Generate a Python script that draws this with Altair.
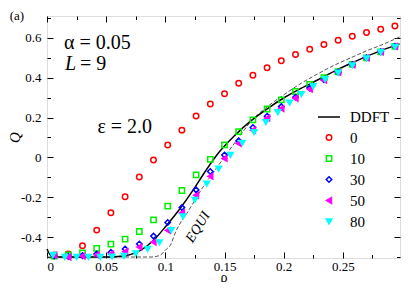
import altair as alt
import pandas as pd

# ---------------- data ----------------
rho_grid = [0.006, 0.018, 0.030, 0.042, 0.054, 0.066, 0.078, 0.090, 0.102,
            0.114, 0.126, 0.138, 0.150, 0.162, 0.174, 0.186, 0.198, 0.210,
            0.222, 0.234, 0.246, 0.258, 0.270, 0.282, 0.294]

q_0 = [-0.490, -0.485, -0.443, -0.365, -0.278, -0.197, -0.098, -0.013, 0.062,
       0.137, 0.208, 0.268, 0.320, 0.372, 0.413, 0.450, 0.485, 0.517,
       0.543, 0.567, 0.588, 0.608, 0.627, 0.643, 0.660]
q_10 = [-0.495, -0.490, -0.480, -0.457, -0.435, -0.410, -0.372, -0.314, -0.245,
        -0.166, -0.088, -0.010, 0.063, 0.130, 0.188, 0.243, 0.289, 0.331,
        0.367, 0.401, 0.430, 0.467, 0.500, 0.530, 0.558]
q_30 = [-0.495, -0.497, -0.493, -0.485, -0.477, -0.460, -0.435, -0.395, -0.327,
        -0.252, -0.163, -0.071, 0.012, 0.083, 0.150, 0.207, 0.255, 0.302,
        0.348, 0.390, 0.428, 0.466, 0.500, 0.530, 0.558]
q_50 = [-0.490, -0.500, -0.495, -0.490, -0.485, -0.473, -0.450, -0.425, -0.366,
        -0.279, -0.190, -0.095, -0.005, 0.070, 0.137, 0.197, 0.245, 0.297,
        0.343, 0.388, 0.427, 0.465, 0.500, 0.530, 0.557]

rho_80 = [0.005, 0.015, 0.025, 0.035, 0.045, 0.055, 0.065, 0.075, 0.085, 0.095,
          0.105, 0.115, 0.125, 0.135, 0.145, 0.155, 0.165, 0.175, 0.185, 0.195,
          0.205, 0.215, 0.225, 0.235, 0.246, 0.258, 0.270, 0.282, 0.294]
q_80 = [-0.490, -0.500, -0.500, -0.500, -0.500, -0.498, -0.495, -0.482, -0.460, -0.427,
        -0.365, -0.297, -0.213, -0.132, -0.057, 0.013, 0.073, 0.127, 0.177, 0.227,
        0.275, 0.318, 0.357, 0.393, 0.425, 0.462, 0.497, 0.528, 0.555]

ddft_rho = [0.0, 0.003, 0.010, 0.030, 0.050, 0.060, 0.0675, 0.0786, 0.0897, 0.1008,
            0.112, 0.123, 0.134, 0.145, 0.159, 0.173, 0.187, 0.201, 0.215, 0.229,
            0.2425, 0.256, 0.270, 0.284, 0.298]
ddft_q = [-0.46, -0.49, -0.50, -0.50, -0.50, -0.497, -0.492, -0.468, -0.418, -0.343,
          -0.260, -0.168, -0.068, 0.023, 0.112, 0.187, 0.248, 0.302, 0.348, 0.390,
          0.432, 0.470, 0.507, 0.540, 0.570]

equi_rho = [0.0, 0.088, 0.095, 0.101, 0.104, 0.109, 0.120, 0.130, 0.1415, 0.1536,
            0.162, 0.173, 0.187, 0.201, 0.215, 0.229, 0.2425, 0.256, 0.270, 0.284, 0.298]
equi_q = [-0.50, -0.50, -0.493, -0.46, -0.443, -0.37, -0.264, -0.165, -0.068, 0.032,
          0.100, 0.185, 0.258, 0.318, 0.373, 0.420, 0.462, 0.498, 0.535, 0.568, 0.605]

series_names = ["DDFT", "0", "10", "30", "50", "80"]
series_colors = ["black", "#ff0000", "#00ee00", "#0000ff", "#ff00ff", "#00ffff"]
series_fills = ["transparent", "transparent", "transparent", "transparent", "#ff00ff", "#00ffff"]
series_shapes = ["stroke", "circle", "square", "diamond", "triangle-left", "triangle-down"]
series_sizes = [484, 30, 28, 30, 32, 32]

x_major = [0, 0.05, 0.1, 0.15, 0.2, 0.25]
x_minor = [0.025, 0.075, 0.125, 0.175, 0.225, 0.275]
y_major = [-0.4, -0.2, 0, 0.2, 0.4, 0.6]
y_minor = [-0.5, -0.3, -0.1, 0.1, 0.3, 0.5, 0.7]

ann_left_text = ["α = 0.05", "= 9"]
ann_left_x = [0.0144, 0.0279]
ann_left_y = [0.575, 0.47]
ann_right_text = ["ε = 2.0"]
ann_right_x = [0.0888]
ann_right_y = [0.155]

# ---------------- tables ----------------
rows = []
for name, qs in [("0", q_0), ("10", q_10), ("30", q_30), ("50", q_50)]:
    for r, q in zip(rho_grid, qs):
        rows.append({"rho": r, "Q": q, "series": name})
for r, q in zip(rho_80, q_80):
    rows.append({"rho": r, "Q": q, "series": "80"})
pts = pd.DataFrame(rows)
ddft = pd.DataFrame({"rho": ddft_rho, "Q": ddft_q})
equi = pd.DataFrame({"rho": equi_rho, "Q": equi_q})

FONT = "Liberation Serif"
xs = alt.Scale(domain=[0, 0.2983], nice=False, zero=False)
ys = alt.Scale(domain=[-0.505, 0.71], nice=False, zero=False)

label_expr_y = "datum.value < 0 ? '-' + format(-datum.value, '~g') : format(datum.value, '~g')"

points = alt.Chart(pts).mark_point(strokeWidth=1.5, opacity=1).encode(
    x=alt.X("rho:Q", scale=xs, title="ρ",
            axis=alt.Axis(values=x_major, format="~g", ticks=False, domain=False, grid=False,
                          labelFont=FONT, labelFontSize=13, labelPadding=2, labelColor="black",
                          titleFont=FONT, titleFontSize=14, titleFontWeight="normal",
                          titlePadding=-3, titleColor="black")),
    y=alt.Y("Q:Q", scale=ys, title="Q",
            axis=alt.Axis(values=y_major, labelExpr=label_expr_y, ticks=False, domain=False,
                          grid=False, labelFont=FONT, labelFontSize=13, labelPadding=6,
                          labelColor="black", titleFont=FONT, titleFontSize=15,
                          titleFontStyle="italic", titleFontWeight="normal",
                          titlePadding=-2, titleColor="black")),
    color=alt.Color("series:N", scale=alt.Scale(domain=series_names, range=series_colors),
                    legend=alt.Legend(title=None, orient="none", legendX=270, legendY=89,
                                      labelFont=FONT, labelFontSize=15, labelColor="black",
                                      symbolStrokeWidth=1.5, rowPadding=5, labelOffset=9,
                                      padding=0)),
    fill=alt.Fill("series:N", scale=alt.Scale(domain=series_names, range=series_fills)),
    shape=alt.Shape("series:N", scale=alt.Scale(domain=series_names, range=series_shapes)),
    size=alt.Size("series:N", scale=alt.Scale(type="ordinal", domain=series_names, range=series_sizes)),
    order=alt.Order("series:N"),
)

ddft_line = alt.Chart(ddft).mark_line(color="black", strokeWidth=1.5, interpolate="monotone").encode(
    x=alt.X("rho:Q", scale=xs, axis=None), y=alt.Y("Q:Q", scale=ys, axis=None))
equi_line = alt.Chart(equi).mark_line(color="#555555", strokeWidth=1, strokeDash=[4, 2],
                                      interpolate="monotone").encode(
    x=alt.X("rho:Q", scale=xs, axis=None), y=alt.Y("Q:Q", scale=ys, axis=None))


def tick_layer(xo, yo, xv, yv, size):
    def ax(orient, vals):
        return alt.Axis(orient=orient, values=vals, offset=-size, tickSize=size, domain=False,
                        labels=False, title=None, grid=False, tickColor="black", tickWidth=1)
    return alt.Chart(ddft).mark_line(opacity=0).encode(
        x=alt.X("rho:Q", scale=xs, axis=ax(xo, xv)),
        y=alt.Y("Q:Q", scale=ys, axis=ax(yo, yv)))


ticks = [tick_layer("bottom", "left", x_major, y_major, 6),
         tick_layer("bottom", "left", x_minor, y_minor, 3.5),
         tick_layer("top", "right", x_major, y_major, 6),
         tick_layer("top", "right", x_minor, y_minor, 3.5)]


def text_layer(df, baseline="middle", **kw):
    return alt.Chart(df).mark_text(font=FONT, baseline=baseline, color="black", **kw).encode(
        x=alt.X("rho:Q", scale=xs, axis=None), y=alt.Y("Q:Q", scale=ys, axis=None), text="t:N")


txt_left = text_layer(pd.DataFrame({"rho": ann_left_x, "Q": ann_left_y, "t": ann_left_text}),
                      fontSize=20, align="left")
txt_right = text_layer(pd.DataFrame({"rho": ann_right_x, "Q": ann_right_y, "t": ann_right_text}),
                       fontSize=20, align="right")
txt_L = text_layer(pd.DataFrame({"rho": [0.0152], "Q": [0.47], "t": ["L"]}),
                   fontSize=20, fontStyle="italic", align="left")
txt_equi = text_layer(pd.DataFrame({"rho": [0.1276], "Q": [-0.35], "t": ["EQUI"]}),
                      fontSize=14, fontStyle="italic", align="center", angle=302)
txt_a = text_layer(pd.DataFrame({"rho": [-0.0315], "Q": [0.738], "t": ["(a)"]}),
                   baseline="top", fontSize=13, align="left")

chart = alt.layer(
    *ticks, equi_line, ddft_line, points, txt_left, txt_right, txt_L, txt_equi, txt_a
).resolve_axis(x="independent", y="independent").properties(
    width=353, height=242,
    autosize=alt.AutoSizeParams(type="none"),
    padding={"left": 39, "top": 8, "right": 1, "bottom": 24},
).configure_view(stroke="black", strokeWidth=1.3).configure(background="white")

chart.save("out.html", embed_options={"renderer": "svg", "actions": False})
